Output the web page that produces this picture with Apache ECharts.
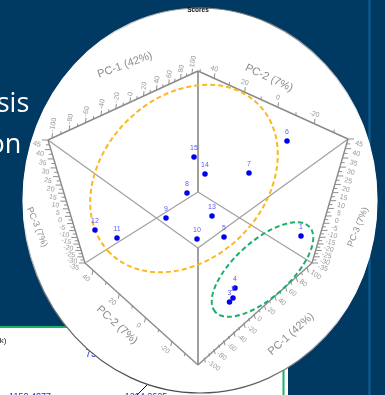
<!DOCTYPE html>
<html><head><meta charset="utf-8">
<style>html,body{margin:0;padding:0;background:#003a63}#c{width:385px;height:395px}</style>
<script src="https://cdn.jsdelivr.net/npm/echarts@6/dist/echarts.min.js"></script>
</head><body><div id="c"></div>
<script>
const sampleIds = ['1','2','3','4','5','6','7','8','9','10','11','12','13','14','15'];
const scoreX = [301,233,229.5,235,224,287,249,187,166,197,117,95,212,205,194];
const scoreY = [236,298,302,288,237,141,173,193,218,239,238,230,216,174,157];
const pc1Ticks = [-100,-90,-80,-70,-60,-50,-40,-30,-20,-10,0,10,20,30,40,50,60,70,80,90,100];
const pc2Ticks = [50,40,30,20,10,0,-10,-20,-30];
const pc2BottomTicks = [40,30,20,10,0,-10,-20,-30];
const pc3Ticks = [45,42.5,40,37.5,35,32.5,30,27.5,25,22.5,20,17.5,15,12.5,10,7.5,5,2.5,0,-2.5,-5,-7.5,-10,-12.5,-15,-17.5,-20,-22.5,-25,-27.5,-30,-32.5,-35];

const GREY='#8a8a8a', LABEL='#999999';
const edges=[[[198,71],[48,140]],[[198,71],[348,139]],[[48,140],[85,263]],[[348,139],[312,263]],[[85,263],[198,365]],[[312,263],[198,365]]];
const inner=[[[198,71],[198,192]],[[198,192],[85,263]],[[198,192],[312,263]],[[198,248],[198,365]],[[198,248],[48,140]],[[198,248],[348,139]]];
const scales=[
 {ticks:pc1Ticks,major:20,from:[52,138.2],to:[192,73.8],k:.795,dir:[.5,-5],off:[0,-6.5],rot:80,align:'left'},
 {ticks:pc2Ticks,major:20,from:[200,72],to:[334,132.5],k:1.197,dir:[.5,-5],off:[0,-9.5],rot:-15,align:'center'},
 {ticks:pc3Ticks,major:5,from:[48,140],to:[85,263],k:.786,dir:[-6,0],off:[-11,4],rot:-12,align:'center'},
 {ticks:pc3Ticks,major:5,from:[348,139],to:[312,263],k:.786,dir:[6,0],off:[11,5],rot:-15,align:'center'},
 {ticks:pc2BottomTicks,major:20,from:[93,270],to:[185,353],k:1,dir:[-1,5],off:[-7,8],rot:-40,align:'center'},
 {ticks:pc1Ticks.slice().reverse(),major:20,from:[307,267.5],to:[204,357.5],k:.94,dir:[1.5,5],off:[4,4],rot:-35,align:'left'}
];
const axisTitles=[
 ['PC-1 (42%)',125,65,20,11],['PC-2 (7%)',269,78,-25,11],['PC-3 (7%)',37,227,-68,9],
 ['PC-3 (7%)',358,227,68,9],['PC-2 (7%)',117,325,-42,11],['PC-1 (42%)',291,334,42,11]
];
const ellipses=[
 {c:[184,178.5],a:105,b:81,deg:45,color:'#fbb81f'},
 {c:[262.5,269.5],a:63.5,b:28,deg:42,color:'#17b26a'}
];
const tickData=[];
scales.forEach((s,i)=>s.ticks.forEach((v,j)=>tickData.push([i,j,v])));

const chart=echarts.init(document.getElementById('c'),null,{renderer:'canvas'});
const rad=d=>d*Math.PI/180;
const txt=(text,x,y,o)=>({type:'text',x,y,style:Object.assign({text,fill:'#000',font:'8px "Liberation Sans"',align:'center',verticalAlign:'middle'},o.style||{}),z:1});
chart.setOption({
 animation:false,
 backgroundColor:'#003a63',
 grid:{left:0,right:0,top:0,bottom:0},
 xAxis:{type:'value',min:0,max:385,show:false},
 yAxis:{type:'value',min:0,max:395,inverse:true,show:false},
 graphic:{elements:[
  {type:'rect',shape:{x:368.5,y:0,width:2,height:395},style:{fill:'#0f5f98'},z:0},
  {type:'rect',shape:{x:0,y:327,width:288,height:68},style:{fill:'#fff'},z:0},
  {type:'rect',shape:{x:0,y:326,width:284.5,height:2},style:{fill:'#17b26a'},z:0},
  {type:'rect',shape:{x:282.5,y:326,width:2,height:69},style:{fill:'#17b26a'},z:0},
  {type:'line',shape:{x1:147,y1:385,x2:137,y2:395},style:{stroke:'#111',lineWidth:1},z:0},
  txt('sis',13,104,{style:{fill:'#fff',font:'27px "Open Sans"'}}),
  txt('on',5,145,{style:{fill:'#fff',font:'27px "Open Sans"'}}),
  txt('k)',3,341,{style:{fill:'#222',font:'8px "Liberation Sans"'}}),
  txt('75',91,354,{style:{fill:'#2a2ae0',font:'10px "Liberation Sans"'}}),
  txt('1150.4077',30,397,{style:{fill:'#2a2ad0',font:'9px "Liberation Sans"'}}),
  txt('1264.2625',146,397,{style:{fill:'#2a2ad0',font:'9px "Liberation Sans"'}}),
  {type:'ellipse',shape:{cx:200,cy:200.5,rx:177,ry:192.5},z:2,
   style:{fill:'#fff',lineWidth:1.2,stroke:new echarts.graphic.LinearGradient(.65,0,.35,1,[{offset:0,color:'#666'},{offset:.07,color:'#aaa'},{offset:.2,color:'#fff'},{offset:.66,color:'#fff'},{offset:.8,color:'#888'},{offset:1,color:'#444'}])}}
 ]},
 series:[
  {type:'custom',coordinateSystem:'cartesian2d',silent:true,clip:false,z:3,data:inner.map((_,i)=>[i]),
   renderItem:(p,api)=>{const e=inner[api.value(0)],a=api.coord(e[0]),b=api.coord(e[1]);
    return {type:'line',shape:{x1:a[0],y1:a[1],x2:b[0],y2:b[1]},style:{stroke:'#a0a0a0',lineWidth:a[0]===b[0]?2:1.2}};}},
  {type:'custom',coordinateSystem:'cartesian2d',silent:true,clip:false,z:3,data:edges.map((_,i)=>[i]),
   renderItem:(p,api)=>{const e=edges[api.value(0)],a=api.coord(e[0]),b=api.coord(e[1]);
    return {type:'line',shape:{x1:a[0],y1:a[1],x2:b[0],y2:b[1]},style:{stroke:GREY,lineWidth:1.4}};}},
  {type:'custom',coordinateSystem:'cartesian2d',silent:true,clip:false,z:3,data:tickData,
   renderItem:(p,api)=>{
    const s=scales[api.value(0)],j=api.value(1),v=api.value(2),n=s.ticks.length-1;
    const t=j/n,f=t/(t+s.k*(1-t));
    const c=api.coord([s.from[0]+(s.to[0]-s.from[0])*f,s.from[1]+(s.to[1]-s.from[1])*f]);
    const isMajor=Math.abs(v/s.major-Math.round(v/s.major))<1e-6;
    const len=isMajor?1:.6;
    const kids=[{type:'line',shape:{x1:c[0],y1:c[1],x2:c[0]+s.dir[0]*len,y2:c[1]+s.dir[1]*len},style:{stroke:'#8f8f8f',lineWidth:1}}];
    if(isMajor)kids.push({type:'text',x:c[0]+s.off[0],y:c[1]+s.off[1],rotation:rad(s.rot),
      style:{text:String(v),fill:LABEL,font:'7px "Liberation Sans"',align:s.align,verticalAlign:'middle'}});
    return {type:'group',children:kids};}},
  {type:'custom',coordinateSystem:'cartesian2d',silent:true,clip:false,z:3,data:axisTitles.map((_,i)=>[i]),
   renderItem:(p,api)=>{const t=axisTitles[api.value(0)],c=api.coord([t[1],t[2]]);
    return {type:'text',x:c[0],y:c[1],rotation:rad(t[3]),style:{text:t[0],fill:'#8c8c8c',font:t[4]+'px "Liberation Sans"',align:'center',verticalAlign:'middle'}};}},
  {type:'custom',coordinateSystem:'cartesian2d',silent:true,clip:false,z:4,data:ellipses.map((_,i)=>[i]),
   renderItem:(p,api)=>{const e=ellipses[api.value(0)],c=api.coord(e.c);
    return {type:'ellipse',x:c[0],y:c[1],rotation:rad(e.deg),shape:{cx:0,cy:0,rx:e.a,ry:e.b},
     style:{fill:'none',stroke:e.color,lineWidth:2,lineDash:[5,3]}};}},
  {type:'scatter',z:5,symbolSize:5.5,silent:true,clip:false,
   itemStyle:{color:'#0000f0',opacity:1},
   label:{show:true,position:'top',distance:3,formatter:p=>p.name,color:'#5a5aff',fontSize:7,fontFamily:'Liberation Sans'},
   labelLayout:{hideOverlap:false},
   data:sampleIds.map((id,i)=>({name:id,value:[scoreX[i],scoreY[i]]}))},
  {type:'custom',coordinateSystem:'cartesian2d',silent:true,clip:false,z:5,data:[[198,10.5]],
   renderItem:(p,api)=>{const c=api.coord([api.value(0),api.value(1)]);
    return {type:'text',x:c[0],y:c[1],style:{text:'Scores',fill:'#111',font:'bold 6.5px "Liberation Sans"',align:'center',verticalAlign:'middle'}};}}
 ]
});
</script></body></html>
